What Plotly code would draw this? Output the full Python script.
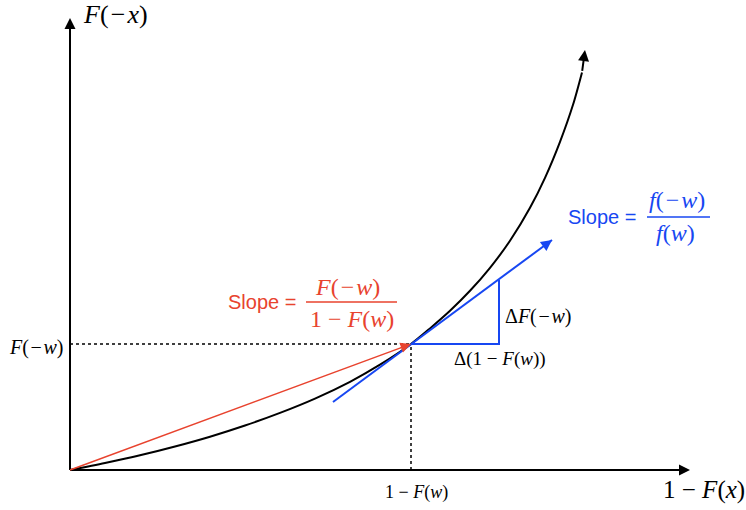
import plotly.graph_objects as go

# ---- data (diagram units: origin at the axes corner) ----
curve_x = [0, 35, 70, 105, 140, 175, 210, 245, 280, 310, 341, 360, 380, 400, 420, 440, 460, 475, 490, 503, 512]
curve_y = [0, 7, 14.7, 23.5, 33.3, 44.5, 57.1, 71.4, 88.2, 105.3, 126, 141.6, 159.2, 179.2, 202.2, 229.2,
           262.2, 292.2, 328.2, 365.2, 397.6]
curve_tip = [515, 420]

point_w = [341, 126]              # (1-F(w), F(-w))
tangent_x = [263, 482]
tangent_y = [68, 230]
triangle_x = [341, 429, 429]
triangle_y = [126, 126, 190]
xaxis_end = [620, 0]
yaxis_end = [0, 452]

RED = "#E8432E"
BLUE = "#1747F2"
SERIF = "Liberation Serif"
SANS = "Liberation Sans"
M = "\u200a−\u200a"   # math minus with slight spacing

fig = go.Figure()

# main curve
fig.add_trace(go.Scatter(x=curve_x, y=curve_y, mode="lines",
                         line=dict(color="black", width=2, shape="spline", smoothing=0.8),
                         hoverinfo="skip"))
# dotted guides
fig.add_trace(go.Scatter(x=[0, point_w[0]], y=[point_w[1], point_w[1]], mode="lines",
                         line=dict(color="black", width=1.5, dash="dot"), hoverinfo="skip"))
fig.add_trace(go.Scatter(x=[point_w[0], point_w[0]], y=[0, point_w[1]], mode="lines",
                         line=dict(color="black", width=1.5, dash="dot"), hoverinfo="skip"))
# axes
fig.add_trace(go.Scatter(x=[0, xaxis_end[0] - 6], y=[0, 0], mode="lines",
                         line=dict(color="black", width=2), hoverinfo="skip"))
fig.add_trace(go.Scatter(x=[0, 0], y=[0, yaxis_end[1] - 6], mode="lines",
                         line=dict(color="black", width=2), hoverinfo="skip"))
# red chord
fig.add_trace(go.Scatter(x=[0, point_w[0] - 5], y=[0, point_w[1] * (point_w[0] - 5) / point_w[0]], mode="lines",
                         line=dict(color=RED, width=1.5), hoverinfo="skip"))
# blue tangent
fig.add_trace(go.Scatter(x=tangent_x, y=tangent_y, mode="lines",
                         line=dict(color=BLUE, width=2), hoverinfo="skip"))
fig.add_trace(go.Scatter(x=triangle_x, y=triangle_y, mode="lines",
                         line=dict(color=BLUE, width=2), hoverinfo="skip"))

ann = []
def arrow(x0, y0, x1, y1, color, w=2, size=1.0):
    ann.append(dict(x=x1, y=y1, ax=x0, ay=y0, xref="x", yref="y", axref="x", ayref="y",
                    showarrow=True, arrowhead=2, arrowsize=size, arrowwidth=w,
                    arrowcolor=color, text="", standoff=0, startstandoff=0))

arrow(curve_x[-1], curve_y[-1], curve_tip[0], curve_tip[1], "black", 2, 1.1)
arrow(xaxis_end[0] - 10, 0, xaxis_end[0], 0, "black", 2, 1.1)
arrow(0, yaxis_end[1] - 10, 0, yaxis_end[1], "black", 2, 1.1)
arrow(point_w[0] - 12, point_w[1] - 12 * point_w[1] / point_w[0], point_w[0], point_w[1], RED, 1.5, 1.4)
arrow(tangent_x[1] - 10, tangent_y[1] - 10 * (tangent_y[1] - tangent_y[0]) / (tangent_x[1] - tangent_x[0]),
      tangent_x[1], tangent_y[1], BLUE, 2, 1.1)

def text(x, y, s, size, color="black", family=SERIF):
    ann.append(dict(x=x, y=y, xref="x", yref="y", text=s, showarrow=False,
                    font=dict(family=family, size=size, color=color),
                    xanchor="center", yanchor="middle"))

text(45, 456, f"<i>F</i>({M}<i>x</i>)", 26)
text(634, -20, "1 − <i>F</i>(<i>x</i>)", 25)
text(346, -22, "1 − <i>F</i>(<i>w</i>)", 18)
text(-34, 123, f"<i>F</i>({M}<i>w</i>)", 20)
text(468, 154, f"Δ<i>F</i>({M}<i>w</i>)", 20)
text(430, 111, "Δ(1 − <i>F</i>(<i>w</i>))", 19)

# red slope label
text(192, 168, "Slope =", 20, RED, SANS)
text(277, 183, f"<i>F</i>({M}<i>w</i>)", 24, RED)
text(282, 151, "1 − <i>F</i>(<i>w</i>)", 24, RED)
# blue slope label
text(532, 253, "Slope =", 20, BLUE, SANS)
text(607, 270, f"<i>f</i>({M}<i>w</i>)", 24, BLUE)
text(605, 237, "<i>f</i>(<i>w</i>)", 24, BLUE)

fig.add_shape(type="line", x0=236, x1=327, y0=168, y1=168, xref="x", yref="y",
              line=dict(color=RED, width=1.5))
fig.add_shape(type="line", x0=577, x1=640, y0=253, y1=253, xref="x", yref="y",
              line=dict(color=BLUE, width=1.5))

fig.update_layout(
    width=746, height=510, margin=dict(l=0, r=0, t=0, b=0),
    paper_bgcolor="white", plot_bgcolor="white", showlegend=False,
    annotations=ann,
    xaxis=dict(range=[-70, 676], visible=False, fixedrange=True),
    yaxis=dict(range=[-40, 470], visible=False, fixedrange=True),
)
fig.write_html("out.html")
